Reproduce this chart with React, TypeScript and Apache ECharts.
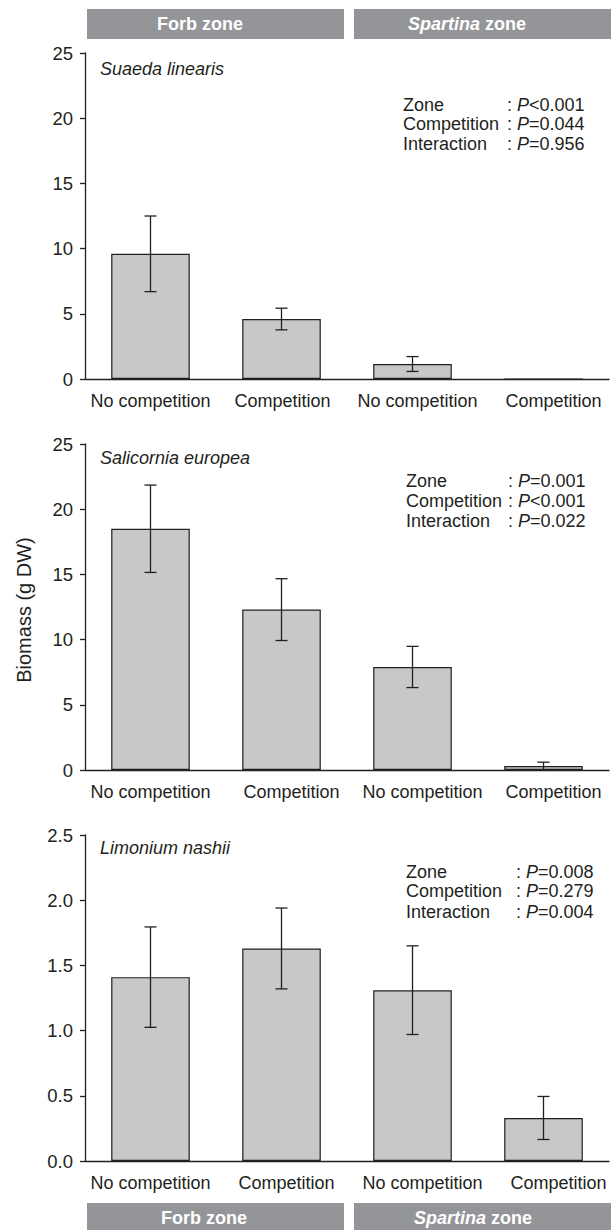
import React, { useEffect, useRef } from "react";
import * as echarts from "echarts";

const categories = ["No competition", "Competition", "No competition", "Competition"];

const suaedaMeans = [9.6, 4.6, 1.15, 0];
const suaedaErr = [2.9, 0.83, 0.57, 0];
const saliMeans = [18.5, 12.3, 7.9, 0.3];
const saliErr = [3.35, 2.37, 1.58, 0.3];
const limMeans = [1.41, 1.63, 1.31, 0.33];
const limErr = [0.385, 0.31, 0.34, 0.165];

const statLabels = ["Zone", "Competition", "Interaction"];
const suaedaP = ["<0.001", "=0.044", "=0.956"];
const saliP = ["=0.001", "<0.001", "=0.022"];
const limP = ["=0.008", "=0.279", "=0.004"];

const speciesNames = ["Suaeda linearis", "Salicornia europea", "Limonium nashii"];
const yAxisTitle = "Biomass (g DW)";

const FONT = "Liberation Sans, Arial, Helvetica, sans-serif";
const INK = "#231f20";
const BAR = "#c7c8ca";
const BANNER = "#939598";

export default function App() {
  const ref = useRef<HTMLDivElement>(null);

  useEffect(() => {
    document.body.style.margin = "0";
    const chart = echarts.init(ref.current!, null, { renderer: "svg" });

    const panels = [
      { means: suaedaMeans, err: suaedaErr, max: 25, interval: 5, dec: 0, top: 53, p: suaedaP, shift: [0, 1, 5, 10] },
      { means: saliMeans, err: saliErr, max: 25, interval: 5, dec: 0, top: 444, p: saliP, shift: [0, 10, 10, 10] },
      { means: limMeans, err: limErr, max: 2.5, interval: 0.5, dec: 1, top: 835, p: limP, shift: [0, 5, 10, 15] },
    ];
    const titleY = [69, 458, 848];
    const statY = [[105, 124, 144], [481, 501, 521], [872, 891, 912]];
    const statLX = [403, 406, 406];
    const statCX = [507, 508, 516];

    const grids = panels.map((p) => ({ left: 85, width: 524, top: p.top, height: 326 }));
    const xAxes = panels.map((p, i) => ({
      type: "category",
      gridIndex: i,
      data: categories.map((c, k) => ({
        value: c,
        textStyle: { padding: [0, 0, 0, 2 * p.shift[k]] },
      })),
      axisLine: { lineStyle: { color: INK, width: 1.3 } },
      axisTick: { alignWithLabel: true, length: 6, lineStyle: { color: INK, width: 1.3 } },
      axisLabel: { color: INK, fontSize: 18, fontFamily: FONT, margin: 13, interval: 0 },
    }));
    const yAxes = panels.map((p, i) => ({
      type: "value",
      gridIndex: i,
      min: 0,
      max: p.max,
      interval: p.interval,
      splitLine: { show: false },
      axisLine: { show: true, lineStyle: { color: INK, width: 1.3 } },
      axisTick: { show: true, length: 5, lineStyle: { color: INK, width: 1.3 } },
      axisLabel: {
        color: INK,
        fontSize: 18.5,
        fontFamily: FONT,
        margin: 12,
        formatter: (v: number) => v.toFixed(p.dec),
      },
    }));

    const series: any[] = [];
    panels.forEach((p, i) => {
      series.push({
        type: "bar",
        xAxisIndex: i,
        yAxisIndex: i,
        data: p.means,
        barWidth: "60%",
        itemStyle: { color: BAR, borderColor: INK, borderWidth: 1.2 },
        z: 2,
      });
      series.push({
        type: "custom",
        xAxisIndex: i,
        yAxisIndex: i,
        z: 3,
        data: p.means.map((m, k) => [k, m, p.err[k]]),
        encode: { x: 0, y: 1 },
        renderItem: (params: any, api: any) => {
          const x = api.value(0);
          const m = api.value(1);
          const e = api.value(2);
          if (!e) return null;
          const t = api.coord([x, m + e]);
          const b = api.coord([x, m - e]);
          const hw = 6;
          const st = { stroke: INK, lineWidth: 1.3 };
          return {
            type: "group",
            children: [
              { type: "line", shape: { x1: t[0], y1: t[1], x2: b[0], y2: b[1] }, style: st },
              { type: "line", shape: { x1: t[0] - hw, y1: t[1], x2: t[0] + hw, y2: t[1] }, style: st },
              { type: "line", shape: { x1: b[0] - hw, y1: b[1], x2: b[0] + hw, y2: b[1] }, style: st },
            ],
          };
        },
      });
    });

    const graphics: any[] = [];
    const banner = (x: number, y: number, w: number, h: number) => ({
      type: "rect",
      shape: { x, y, width: w, height: h },
      style: { fill: BANNER },
    });
    const bannerText = (x: number, y: number, rich: boolean) => ({
      type: "text",
      x,
      y,
      style: {
        text: rich ? "{i|Spartina} zone" : "Forb zone",
        fill: "#ffffff",
        fontSize: 18,
        fontWeight: "bold",
        fontFamily: FONT,
        align: "center",
        verticalAlign: "middle",
        rich: {
          i: { fontStyle: "italic", fontWeight: "bold", fill: "#ffffff", fontSize: 18, fontFamily: FONT },
        },
      },
    });
    graphics.push(banner(87, 9, 257, 30), banner(354, 9, 257, 30));
    graphics.push(bannerText(200, 24, false), bannerText(467, 24, true));
    graphics.push(banner(87, 1203, 257, 30), banner(354, 1203, 257, 30));
    graphics.push(bannerText(204, 1218, false), bannerText(473, 1218, true));

    panels.forEach((p, i) => {
      graphics.push({
        type: "text",
        x: 100,
        y: titleY[i],
        style: {
          text: speciesNames[i],
          fill: INK,
          fontSize: 18,
          fontStyle: "italic",
          fontFamily: FONT,
          align: "left",
          verticalAlign: "middle",
        },
      });
      statLabels.forEach((lab, k) => {
        graphics.push({
          type: "text",
          x: statLX[i],
          y: statY[i][k],
          style: {
            text: lab,
            fill: INK,
            fontSize: 18,
            fontFamily: FONT,
            align: "left",
            verticalAlign: "middle",
          },
        });
        graphics.push({
          type: "text",
          x: statCX[i],
          y: statY[i][k],
          style: {
            text: ": {i|P}" + p.p[k],
            fill: INK,
            fontSize: 18,
            fontFamily: FONT,
            align: "left",
            verticalAlign: "middle",
            rich: { i: { fontStyle: "italic", fontSize: 18, fontFamily: FONT, fill: INK } },
          },
        });
      });
    });

    graphics.push({
      type: "text",
      x: 24,
      y: 610,
      rotation: Math.PI / 2,
      style: {
        text: yAxisTitle,
        fill: INK,
        fontSize: 20,
        fontFamily: FONT,
        align: "center",
        verticalAlign: "middle",
      },
    });

    chart.setOption({
      animation: false,
      backgroundColor: "#ffffff",
      grid: grids,
      xAxis: xAxes,
      yAxis: yAxes,
      series,
      graphic: graphics,
    });

    return () => chart.dispose();
  }, []);

  return <div ref={ref} style={{ width: 611, height: 1230 }} />;
}
